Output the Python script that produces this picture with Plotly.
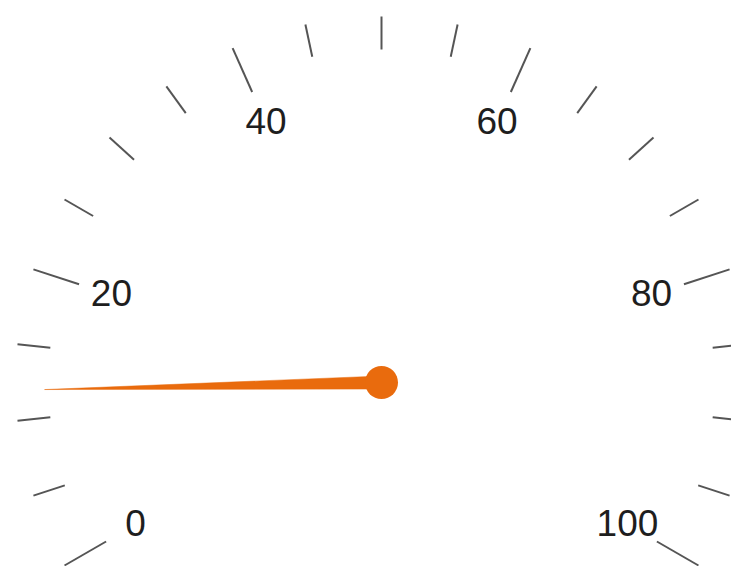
import numpy as np
import plotly.graph_objects as go

# gauge data
gauge_min = 0
gauge_max = 100
tick_values = list(range(0, 101, 5))
major_values = [0, 20, 40, 60, 80, 100]
tick_labels = ["0", "20", "40", "60", "80", "100"]
needle_value = 12

# geometry (px units, center of the dial at origin)
START_ANGLE, END_ANGLE = 210, -30
R_OUT = 366
R_MAJOR_IN = 318
R_MINOR_IN = 333
R_LABEL = 284
NEEDLE_LEN = 337
NEEDLE_HALF = 6.5
NEEDLE_COLOR = "#e96b0d"
TICK_COLOR = "#555555"


def angle_of(v):
    frac = (v - gauge_min) / (gauge_max - gauge_min)
    return np.radians(START_ANGLE + (END_ANGLE - START_ANGLE) * frac)


# tick marks, one trace with gaps
tx, ty = [], []
for v in tick_values:
    a = angle_of(v)
    r_in = R_MAJOR_IN if v in major_values else R_MINOR_IN
    tx += [r_in * np.cos(a), R_OUT * np.cos(a), None]
    ty += [r_in * np.sin(a), R_OUT * np.sin(a), None]

fig = go.Figure()
fig.add_trace(go.Scatter(x=tx, y=ty, mode="lines",
                         line=dict(color=TICK_COLOR, width=2),
                         hoverinfo="skip"))

la = np.array([angle_of(v) for v in major_values])
fig.add_trace(go.Scatter(x=R_LABEL * np.cos(la), y=R_LABEL * np.sin(la) - 2,
                         mode="text", text=tick_labels,
                         textposition="middle center",
                         textfont=dict(family="Liberation Sans, Arial", size=37, color="#1e1e1e"),
                         hoverinfo="skip"))

# needle: tapered polygon from the centre to the tip
a = angle_of(needle_value)
px_, py_ = -np.sin(a), np.cos(a)
nx = [NEEDLE_HALF * px_, NEEDLE_LEN * np.cos(a), -NEEDLE_HALF * px_, NEEDLE_HALF * px_]
ny = [NEEDLE_HALF * py_, NEEDLE_LEN * np.sin(a), -NEEDLE_HALF * py_, NEEDLE_HALF * py_]
fig.add_trace(go.Scatter(x=nx, y=ny, mode="lines", fill="toself",
                         fillcolor=NEEDLE_COLOR, line=dict(color=NEEDLE_COLOR, width=0.5),
                         hoverinfo="skip"))
fig.add_trace(go.Scatter(x=[0], y=[0], mode="markers",
                         marker=dict(size=33, color=NEEDLE_COLOR),
                         hoverinfo="skip"))

# page has an 8px body margin, so the ranges are shifted to keep the dial centre in place
fig.update_layout(width=739, height=566, margin=dict(l=0, r=0, t=0, b=0),
                  paper_bgcolor="white", plot_bgcolor="white", showlegend=False)
fig.update_xaxes(visible=False, range=[-373.5, 365.5], fixedrange=True)
fig.update_yaxes(visible=False, range=[-191.5, 374.5], fixedrange=True)

fig.write_html("out.html")
